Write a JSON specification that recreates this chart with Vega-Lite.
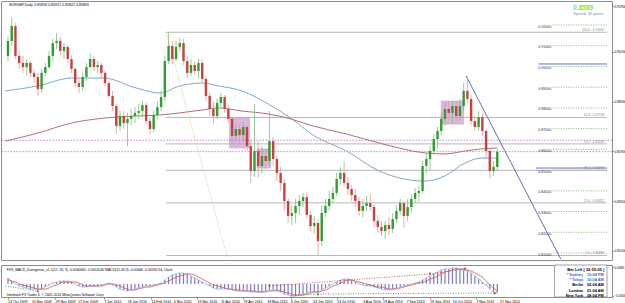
{
"$schema":"https://vega.github.io/schema/vega-lite/v6.json",
"padding":0,
"background":"white",
"spacing":3,
"config":{"view":{"stroke":"#8c8c8c"},"axis":{"title":null,"grid":false,"domain":false,"labelFont":"Liberation Sans","labelColor":"#000000","tickColor":"#8c8c8c","tickSize":1.5,"labelPadding":0.5},"text":{"font":"Liberation Sans"}},
"datasets":{
"c":[
{"t":"2009-10-22","o":0.9051,"h":0.9147,"l":0.9026,"c":0.9123,"m":0.003,"s":0.002},
{"t":"2009-10-25","o":0.9123,"h":0.9234,"l":0.9099,"c":0.9195,"m":0.0015,"s":0.0015},
{"t":"2009-10-28","o":0.9195,"h":0.9210,"l":0.9036,"c":0.9051,"m":0,"s":0.001},
{"t":"2009-10-31","o":0.9051,"h":0.9075,"l":0.8988,"c":0.9017,"m":-0.001,"s":0},
{"t":"2009-11-03","o":0.9017,"h":0.9051,"l":0.8969,"c":0.8997,"m":-0.0015,"s":-0.0005},
{"t":"2009-11-06","o":0.8997,"h":0.9036,"l":0.8959,"c":0.9017,"m":-0.002,"s":-0.001},
{"t":"2009-11-09","o":0.9017,"h":0.9026,"l":0.8949,"c":0.8969,"m":-0.0025,"s":-0.0015},
{"t":"2009-11-12","o":0.8969,"h":0.8988,"l":0.8920,"c":0.8949,"m":-0.0025,"s":-0.002},
{"t":"2009-11-15","o":0.8949,"h":0.8969,"l":0.8858,"c":0.8891,"m":-0.003,"s":-0.0025},
{"t":"2009-11-18","o":0.8891,"h":0.8988,"l":0.8872,"c":0.8969,"m":-0.0025,"s":-0.0025},
{"t":"2009-11-21","o":0.8969,"h":0.9017,"l":0.8954,"c":0.8997,"m":-0.0015,"s":-0.0025},
{"t":"2009-11-24","o":0.8997,"h":0.9075,"l":0.8988,"c":0.9051,"m":-0.0005,"s":-0.002},
{"t":"2009-11-27","o":0.9051,"h":0.9133,"l":0.9026,"c":0.9113,"m":0.0005,"s":-0.001},
{"t":"2009-11-30","o":0.9113,"h":0.9161,"l":0.9084,"c":0.9123,"m":0.001,"s":-0.0005},
{"t":"2009-12-03","o":0.9123,"h":0.9142,"l":0.9055,"c":0.9075,"m":0.0015,"s":0.0005},
{"t":"2009-12-06","o":0.9075,"h":0.9113,"l":0.9036,"c":0.9094,"m":0.0015,"s":0.001},
{"t":"2009-12-09","o":0.9094,"h":0.9104,"l":0.9017,"c":0.9036,"m":0.0015,"s":0.001},
{"t":"2009-12-12","o":0.9036,"h":0.9055,"l":0.8969,"c":0.8988,"m":0.001,"s":0.001},
{"t":"2009-12-15","o":0.8988,"h":0.8997,"l":0.8901,"c":0.8920,"m":0,"s":0.001},
{"t":"2009-12-18","o":0.8920,"h":0.8940,"l":0.8872,"c":0.8901,"m":-0.001,"s":0.0005},
{"t":"2009-12-21","o":0.8901,"h":0.8969,"l":0.8882,"c":0.8949,"m":-0.0015,"s":-0.0005},
{"t":"2009-12-24","o":0.8949,"h":0.9017,"l":0.8930,"c":0.8997,"m":-0.0015,"s":-0.001},
{"t":"2009-12-27","o":0.8997,"h":0.9065,"l":0.8988,"c":0.9036,"m":-0.001,"s":-0.001},
{"t":"2009-12-30","o":0.9036,"h":0.9051,"l":0.8978,"c":0.8997,"m":-0.001,"s":-0.001},
{"t":"2010-01-02","o":0.8997,"h":0.9026,"l":0.8969,"c":0.9007,"m":-0.001,"s":-0.001},
{"t":"2010-01-05","o":0.9007,"h":0.9017,"l":0.8944,"c":0.8969,"m":-0.0005,"s":-0.001},
{"t":"2010-01-08","o":0.8969,"h":0.8978,"l":0.8906,"c":0.8920,"m":0,"s":-0.0005},
{"t":"2010-01-11","o":0.8920,"h":0.8930,"l":0.8843,"c":0.8858,"m":0.0005,"s":0},
{"t":"2010-01-14","o":0.8858,"h":0.8882,"l":0.8785,"c":0.8809,"m":-0.0005,"s":0},
{"t":"2010-01-17","o":0.8809,"h":0.8819,"l":0.8674,"c":0.8713,"m":-0.0015,"s":-0.0005},
{"t":"2010-01-20","o":0.8713,"h":0.8785,"l":0.8689,"c":0.8761,"m":-0.0025,"s":-0.001},
{"t":"2010-01-23","o":0.8761,"h":0.8785,"l":0.8698,"c":0.8727,"m":-0.003,"s":-0.002},
{"t":"2010-01-26","o":0.8727,"h":0.8776,"l":0.8616,"c":0.8747,"m":-0.0035,"s":-0.0025},
{"t":"2010-01-29","o":0.8747,"h":0.8795,"l":0.8718,"c":0.8761,"m":-0.003,"s":-0.003},
{"t":"2010-02-01","o":0.8761,"h":0.8804,"l":0.8727,"c":0.8776,"m":-0.0025,"s":-0.003},
{"t":"2010-02-04","o":0.8776,"h":0.8819,"l":0.8747,"c":0.8785,"m":-0.002,"s":-0.0025},
{"t":"2010-02-07","o":0.8785,"h":0.8833,"l":0.8756,"c":0.8814,"m":-0.0015,"s":-0.002},
{"t":"2010-02-10","o":0.8814,"h":0.8824,"l":0.8718,"c":0.8737,"m":-0.001,"s":-0.0015},
{"t":"2010-02-13","o":0.8737,"h":0.8756,"l":0.8674,"c":0.8698,"m":-0.001,"s":-0.0015},
{"t":"2010-02-16","o":0.8698,"h":0.8785,"l":0.8684,"c":0.8766,"m":-0.0005,"s":-0.001},
{"t":"2010-02-19","o":0.8766,"h":0.8833,"l":0.8747,"c":0.8804,"m":0,"s":-0.0005},
{"t":"2010-02-22","o":0.8804,"h":0.8882,"l":0.8785,"c":0.8853,"m":0.0005,"s":0},
{"t":"2010-02-25","o":0.8853,"h":0.9051,"l":0.8833,"c":0.9026,"m":0.002,"s":0.0005},
{"t":"2010-02-28","o":0.9026,"h":0.9165,"l":0.9012,"c":0.9099,"m":0.0035,"s":0.0015},
{"t":"2010-03-03","o":0.9099,"h":0.9123,"l":0.9012,"c":0.9036,"m":0.0045,"s":0.0025},
{"t":"2010-03-06","o":0.9036,"h":0.9123,"l":0.9026,"c":0.9094,"m":0.005,"s":0.0035},
{"t":"2010-03-09","o":0.9094,"h":0.9137,"l":0.9075,"c":0.9113,"m":0.0055,"s":0.004},
{"t":"2010-03-12","o":0.9113,"h":0.9133,"l":0.9007,"c":0.9026,"m":0.0055,"s":0.0045},
{"t":"2010-03-15","o":0.9026,"h":0.9046,"l":0.8944,"c":0.8969,"m":0.005,"s":0.005},
{"t":"2010-03-18","o":0.8969,"h":0.9036,"l":0.8954,"c":0.9007,"m":0.004,"s":0.005},
{"t":"2010-03-21","o":0.9007,"h":0.9026,"l":0.8959,"c":0.8978,"m":0.003,"s":0.0045},
{"t":"2010-03-24","o":0.8978,"h":0.9036,"l":0.8944,"c":0.9017,"m":0.002,"s":0.0035},
{"t":"2010-03-27","o":0.9017,"h":0.9036,"l":0.8920,"c":0.8940,"m":0.001,"s":0.0025},
{"t":"2010-03-30","o":0.8940,"h":0.8954,"l":0.8833,"c":0.8858,"m":0,"s":0.0015},
{"t":"2010-04-02","o":0.8858,"h":0.8872,"l":0.8761,"c":0.8795,"m":-0.001,"s":0.0005},
{"t":"2010-04-05","o":0.8795,"h":0.8833,"l":0.8722,"c":0.8761,"m":-0.002,"s":-0.0005},
{"t":"2010-04-08","o":0.8761,"h":0.8843,"l":0.8747,"c":0.8824,"m":-0.0025,"s":-0.001},
{"t":"2010-04-11","o":0.8824,"h":0.8872,"l":0.8804,"c":0.8853,"m":-0.0025,"s":-0.0015},
{"t":"2010-04-14","o":0.8853,"h":0.8862,"l":0.8776,"c":0.8795,"m":-0.0025,"s":-0.002},
{"t":"2010-04-17","o":0.8795,"h":0.8814,"l":0.8727,"c":0.8747,"m":-0.0025,"s":-0.0025},
{"t":"2010-04-20","o":0.8747,"h":0.8756,"l":0.8631,"c":0.8665,"m":-0.003,"s":-0.0025},
{"t":"2010-04-23","o":0.8665,"h":0.8727,"l":0.8640,"c":0.8698,"m":-0.0035,"s":-0.003},
{"t":"2010-04-26","o":0.8698,"h":0.8722,"l":0.8631,"c":0.8669,"m":-0.0035,"s":-0.003},
{"t":"2010-04-29","o":0.8669,"h":0.8732,"l":0.8640,"c":0.8708,"m":-0.0035,"s":-0.0035},
{"t":"2010-05-02","o":0.8708,"h":0.8718,"l":0.8592,"c":0.8616,"m":-0.0035,"s":-0.0035},
{"t":"2010-05-05","o":0.8616,"h":0.8640,"l":0.8438,"c":0.8496,"m":-0.004,"s":-0.0035},
{"t":"2010-05-08","o":0.8496,"h":0.8819,"l":0.8467,"c":0.8592,"m":-0.004,"s":-0.0035},
{"t":"2010-05-11","o":0.8592,"h":0.8640,"l":0.8462,"c":0.8520,"m":-0.004,"s":-0.004},
{"t":"2010-05-14","o":0.8520,"h":0.8616,"l":0.8486,"c":0.8568,"m":-0.004,"s":-0.004},
{"t":"2010-05-17","o":0.8568,"h":0.8602,"l":0.8505,"c":0.8544,"m":-0.0035,"s":-0.004},
{"t":"2010-05-20","o":0.8544,"h":0.8785,"l":0.8520,"c":0.8640,"m":-0.003,"s":-0.0035},
{"t":"2010-05-23","o":0.8640,"h":0.8660,"l":0.8520,"c":0.8554,"m":-0.003,"s":-0.0035},
{"t":"2010-05-26","o":0.8554,"h":0.8568,"l":0.8447,"c":0.8486,"m":-0.0035,"s":-0.003},
{"t":"2010-05-29","o":0.8486,"h":0.8515,"l":0.8399,"c":0.8438,"m":-0.004,"s":-0.0035},
{"t":"2010-06-01","o":0.8438,"h":0.8457,"l":0.8303,"c":0.8351,"m":-0.005,"s":-0.004},
{"t":"2010-06-04","o":0.8351,"h":0.8365,"l":0.8245,"c":0.8279,"m":-0.0055,"s":-0.0045},
{"t":"2010-06-07","o":0.8279,"h":0.8327,"l":0.8235,"c":0.8293,"m":-0.006,"s":-0.005},
{"t":"2010-06-10","o":0.8293,"h":0.8361,"l":0.8245,"c":0.8327,"m":-0.006,"s":-0.0055},
{"t":"2010-06-13","o":0.8327,"h":0.8380,"l":0.8284,"c":0.8351,"m":-0.0055,"s":-0.0055},
{"t":"2010-06-16","o":0.8351,"h":0.8390,"l":0.8322,"c":0.8370,"m":-0.005,"s":-0.0055},
{"t":"2010-06-19","o":0.8370,"h":0.8385,"l":0.8264,"c":0.8284,"m":-0.0045,"s":-0.005},
{"t":"2010-06-22","o":0.8284,"h":0.8303,"l":0.8206,"c":0.8230,"m":-0.004,"s":-0.0045},
{"t":"2010-06-25","o":0.8230,"h":0.8279,"l":0.8192,"c":0.8245,"m":-0.004,"s":-0.004},
{"t":"2010-06-28","o":0.8245,"h":0.8264,"l":0.8089,"c":0.8158,"m":-0.004,"s":-0.004},
{"t":"2010-07-01","o":0.8158,"h":0.8327,"l":0.8134,"c":0.8293,"m":-0.003,"s":-0.0035},
{"t":"2010-07-04","o":0.8293,"h":0.8361,"l":0.8274,"c":0.8327,"m":-0.002,"s":-0.003},
{"t":"2010-07-07","o":0.8327,"h":0.8399,"l":0.8303,"c":0.8361,"m":-0.001,"s":-0.002},
{"t":"2010-07-10","o":0.8361,"h":0.8419,"l":0.8341,"c":0.8390,"m":0,"s":-0.001},
{"t":"2010-07-13","o":0.8390,"h":0.8486,"l":0.8375,"c":0.8457,"m":0.001,"s":-0.0005},
{"t":"2010-07-16","o":0.8457,"h":0.8515,"l":0.8428,"c":0.8486,"m":0.002,"s":0.0005},
{"t":"2010-07-19","o":0.8486,"h":0.8544,"l":0.8419,"c":0.8438,"m":0.0025,"s":0.001},
{"t":"2010-07-22","o":0.8438,"h":0.8467,"l":0.8380,"c":0.8409,"m":0.0025,"s":0.002},
{"t":"2010-07-25","o":0.8409,"h":0.8428,"l":0.8351,"c":0.8380,"m":0.002,"s":0.002},
{"t":"2010-07-28","o":0.8380,"h":0.8409,"l":0.8322,"c":0.8351,"m":0.001,"s":0.0015},
{"t":"2010-07-31","o":0.8351,"h":0.8370,"l":0.8279,"c":0.8303,"m":0,"s":0.001},
{"t":"2010-08-03","o":0.8303,"h":0.8361,"l":0.8274,"c":0.8327,"m":-0.0005,"s":0.0005},
{"t":"2010-08-06","o":0.8327,"h":0.8375,"l":0.8303,"c":0.8341,"m":-0.001,"s":0},
{"t":"2010-08-09","o":0.8341,"h":0.8385,"l":0.8303,"c":0.8322,"m":-0.001,"s":-0.0005},
{"t":"2010-08-12","o":0.8322,"h":0.8337,"l":0.8226,"c":0.8255,"m":-0.0015,"s":-0.001},
{"t":"2010-08-15","o":0.8255,"h":0.8284,"l":0.8197,"c":0.8226,"m":-0.002,"s":-0.0015},
{"t":"2010-08-18","o":0.8226,"h":0.8255,"l":0.8182,"c":0.8206,"m":-0.0025,"s":-0.0015},
{"t":"2010-08-21","o":0.8206,"h":0.8255,"l":0.8168,"c":0.8235,"m":-0.003,"s":-0.002},
{"t":"2010-08-24","o":0.8235,"h":0.8274,"l":0.8187,"c":0.8216,"m":-0.003,"s":-0.0025},
{"t":"2010-08-27","o":0.8216,"h":0.8293,"l":0.8197,"c":0.8264,"m":-0.0025,"s":-0.0025},
{"t":"2010-08-30","o":0.8264,"h":0.8332,"l":0.8245,"c":0.8303,"m":-0.002,"s":-0.0025},
{"t":"2010-09-02","o":0.8303,"h":0.8361,"l":0.8284,"c":0.8341,"m":-0.0015,"s":-0.002},
{"t":"2010-09-05","o":0.8341,"h":0.8351,"l":0.8221,"c":0.8279,"m":-0.001,"s":-0.0015},
{"t":"2010-09-08","o":0.8279,"h":0.8361,"l":0.8255,"c":0.8322,"m":-0.0005,"s":-0.001},
{"t":"2010-09-11","o":0.8322,"h":0.8385,"l":0.8293,"c":0.8361,"m":0,"s":-0.0005},
{"t":"2010-09-14","o":0.8361,"h":0.8414,"l":0.8341,"c":0.8390,"m":0.0005,"s":0},
{"t":"2010-09-17","o":0.8390,"h":0.8423,"l":0.8351,"c":0.8399,"m":0.001,"s":0.0005},
{"t":"2010-09-20","o":0.8399,"h":0.8544,"l":0.8390,"c":0.8520,"m":0.002,"s":0.001},
{"t":"2010-09-23","o":0.8520,"h":0.8583,"l":0.8486,"c":0.8554,"m":0.003,"s":0.0015},
{"t":"2010-09-26","o":0.8554,"h":0.8616,"l":0.8496,"c":0.8592,"m":0.004,"s":0.0025},
{"t":"2010-09-29","o":0.8592,"h":0.8674,"l":0.8583,"c":0.8650,"m":0.005,"s":0.003},
{"t":"2010-10-02","o":0.8650,"h":0.8708,"l":0.8607,"c":0.8689,"m":0.006,"s":0.004},
{"t":"2010-10-05","o":0.8689,"h":0.8776,"l":0.8669,"c":0.8747,"m":0.007,"s":0.005},
{"t":"2010-10-08","o":0.8747,"h":0.8824,"l":0.8713,"c":0.8795,"m":0.0075,"s":0.006},
{"t":"2010-10-11","o":0.8795,"h":0.8833,"l":0.8737,"c":0.8776,"m":0.0075,"s":0.0065},
{"t":"2010-10-14","o":0.8776,"h":0.8833,"l":0.8722,"c":0.8809,"m":0.008,"s":0.007},
{"t":"2010-10-17","o":0.8809,"h":0.8833,"l":0.8727,"c":0.8761,"m":0.008,"s":0.0075},
{"t":"2010-10-20","o":0.8761,"h":0.8843,"l":0.8737,"c":0.8809,"m":0.0075,"s":0.0075},
{"t":"2010-10-23","o":0.8809,"h":0.8920,"l":0.8785,"c":0.8882,"m":0.007,"s":0.0075},
{"t":"2010-10-26","o":0.8882,"h":0.8954,"l":0.8824,"c":0.8843,"m":0.0065,"s":0.007},
{"t":"2010-10-29","o":0.8843,"h":0.8862,"l":0.8718,"c":0.8737,"m":0.0055,"s":0.0065},
{"t":"2010-11-01","o":0.8737,"h":0.8761,"l":0.8689,"c":0.8708,"m":0.004,"s":0.0055},
{"t":"2010-11-04","o":0.8708,"h":0.8785,"l":0.8689,"c":0.8756,"m":0.0025,"s":0.0045},
{"t":"2010-11-07","o":0.8756,"h":0.8776,"l":0.8665,"c":0.8689,"m":0.001,"s":0.0035},
{"t":"2010-11-10","o":0.8689,"h":0.8698,"l":0.8554,"c":0.8592,"m":-0.0005,"s":0.0015},
{"t":"2010-11-13","o":0.8592,"h":0.8602,"l":0.8462,"c":0.8496,"m":-0.0025,"s":-0.0005},
{"t":"2010-11-16","o":0.8496,"h":0.8544,"l":0.8472,"c":0.8515,"m":-0.004,"s":-0.002},
{"t":"2010-11-19","o":0.8515,"h":0.8602,"l":0.8496,"c":0.8589,"m":-0.0045,"s":-0.0035}
],
"ma":[
{"t":"2009-10-20","b":0.8882,"r":0.8640},
{"t":"2009-11-15","b":0.8906,"r":0.8679},
{"t":"2009-12-12","b":0.8944,"r":0.8727},
{"t":"2010-01-07","b":0.8944,"r":0.8751},
{"t":"2010-02-02","b":0.8896,"r":0.8761},
{"t":"2010-02-21","b":0.8872,"r":0.8766},
{"t":"2010-03-09","b":0.8906,"r":0.8776},
{"t":"2010-03-27","b":0.8920,"r":0.8790},
{"t":"2010-04-09","b":0.8906,"r":0.8800},
{"t":"2010-04-28","b":0.8882,"r":0.8785},
{"t":"2010-05-19","b":0.8819,"r":0.8771},
{"t":"2010-06-06","b":0.8751,"r":0.8747},
{"t":"2010-06-24","b":0.8669,"r":0.8713},
{"t":"2010-07-21","b":0.8592,"r":0.8674},
{"t":"2010-08-16","b":0.8496,"r":0.8631},
{"t":"2010-09-22","b":0.8447,"r":0.8583},
{"t":"2010-10-08","b":0.8472,"r":0.8578},
{"t":"2010-10-24","b":0.8534,"r":0.8592},
{"t":"2010-11-06","b":0.8558,"r":0.8602},
{"t":"2010-11-19","b":0.8558,"r":0.8607}
],
"box":[
{"t1":"2010-04-18","t2":"2010-05-04","p1":0.8751,"p2":0.8607},
{"t1":"2010-05-10","t2":"2010-05-21","p1":0.8602,"p2":0.8510},
{"t1":"2010-10-05","t2":"2010-10-23","p1":0.8833,"p2":0.8722}
],
"fib":[
{"p":0.9165,"lab":"100.0 - 0.91650"},
{"p":0.8754,"lab":"61.8 - 0.87538"},
{"p":0.86265,"lab":"50.0 - 0.86265"},
{"p":0.8499,"lab":"38.2 - 0.84992"},
{"p":0.83422,"lab":"23.6 - 0.83422"},
{"p":0.8088,"lab":"0.0 - 0.80880"}
],
"lv":[{"p":0.92},{"p":0.91},{"p":0.90},{"p":0.89},{"p":0.88},{"p":0.87},{"p":0.86},{"p":0.85},{"p":0.84},{"p":0.83},{"p":0.82},{"p":0.81}],
"tl":[
{"id":"a","t":"2010-02-26","p":0.9165},{"id":"a","t":"2010-04-16","p":0.8081},
{"id":"b","t":"2010-10-25","p":0.8954},{"id":"b","t":"2011-01-09","p":0.8071}
],
"div":[
{"id":"g1","k":"bull","t":"2009-10-20","v":-0.001},{"id":"g1","k":"bull","t":"2009-11-15","v":-0.0035},
{"id":"g2","k":"bull","t":"2010-06-06","v":-0.006},{"id":"g2","k":"bull","t":"2010-06-28","v":-0.005},
{"id":"g3","k":"bull","t":"2010-06-28","v":-0.005},{"id":"g3","k":"bull","t":"2010-11-17","v":-0.0045},
{"id":"r1","k":"bear","t":"2010-05-20","v":-0.001},{"id":"r1","k":"bear","t":"2010-09-26","v":0.005},
{"id":"r2","k":"bear","t":"2010-09-26","v":0.005},{"id":"r2","k":"bear","t":"2010-10-24","v":0.0075}
],
"arr":[
{"k":"bear","t":"2010-05-20","v":-0.001},{"k":"bear","t":"2010-09-26","v":0.005},{"k":"bear","t":"2010-10-24","v":0.0075},
{"k":"bull","t":"2009-11-15","v":-0.0035},{"k":"bull","t":"2010-06-28","v":-0.005},{"k":"bull","t":"2010-11-17","v":-0.0045}
],
"info":[
{"name":"* Sydney","time":"12:04 PM","v":0.0046},
{"name":"* Tokyo","time":"10:04 AM","v":0.00195},
{"name":"Berlin","time":"02:04 AM","v":-0.0007},
{"name":"London","time":"01:04 AM","v":-0.00335},
{"name":"New York","time":"08:04 PM","v":-0.006}
],
"dl":[
{"t":"2009-10-22","lab":"22 Oct 2009"},{"t":"2009-11-10","lab":"10 Nov 2009"},{"t":"2009-11-29","lab":"29 Nov 2009"},{"t":"2009-12-17","lab":"17 Dec 2009"},
{"t":"2010-01-07","lab":"7 Jan 2010"},{"t":"2010-01-26","lab":"26 Jan 2010"},{"t":"2010-02-14","lab":"14 Feb 2010"},{"t":"2010-03-04","lab":"4 Mar 2010"},
{"t":"2010-03-23","lab":"23 Mar 2010"},{"t":"2010-04-11","lab":"11 Apr 2010"},{"t":"2010-04-29","lab":"29 Apr 2010"},{"t":"2010-05-18","lab":"18 May 2010"},
{"t":"2010-06-06","lab":"6 Jun 2010"},{"t":"2010-06-24","lab":"24 Jun 2010"},{"t":"2010-07-13","lab":"13 Jul 2010"},{"t":"2010-08-03","lab":"3 Aug 2010"},
{"t":"2010-08-19","lab":"19 Aug 2010"},{"t":"2010-09-07","lab":"7 Sep 2010"},{"t":"2010-09-26","lab":"26 Sep 2010"},{"t":"2010-10-14","lab":"14 Oct 2010"},
{"t":"2010-11-02","lab":"2 Nov 2010"},{"t":"2010-11-21","lab":"21 Nov 2010"}
]
},
"vconcat":[
{
"width":611,"height":259,
"layer":[
{"data":{"name":"box"},"mark":{"type":"rect","fill":"#DCB8E0","stroke":"#C8A2D2","strokeWidth":0.6},
 "encoding":{"x":{"field":"t1","type":"temporal","scale":{"type":"utc","domain":[{"year":2009,"month":10,"date":20,"hours":10,"utc":true},{"year":2011,"month":2,"date":15,"hours":3,"utc":true}]},"axis":null},"x2":{"field":"t2"},
 "y":{"field":"p1","type":"quantitative","scale":{"domain":[0.80664,0.93158],"nice":false,"zero":false},"axis":{"orient":"right","values":[0.811,0.817,0.823,0.829,0.835,0.841,0.847,0.853,0.859,0.865,0.871,0.877,0.883,0.889,0.895,0.901,0.907,0.913,0.919,0.925,0.929],"format":".5f","labelFontSize":3.3,"labelOverlap":false}},"y2":{"field":"p2"}}},
{"data":{"values":[{"p":0.8644},{"p":0.8589}]},"mark":{"type":"rule","stroke":"#B06CC6","strokeDash":[1.5,1.5],"strokeWidth":0.8},"encoding":{"y":{"field":"p","type":"quantitative"}}},
{"data":{"name":"fib"},"mark":{"type":"rule","stroke":"#A6A6A6","strokeWidth":0.8},"encoding":{"x":{"datum":{"year":2010,"month":2,"date":26,"utc":true},"type":"temporal"},"x2":{"datum":{"year":2011,"month":2,"date":15,"hours":3,"utc":true}},"y":{"field":"p","type":"quantitative"}}},
{"data":{"name":"fib"},"mark":{"type":"text","align":"right","baseline":"bottom","dy":-0.3,"fontSize":3.2,"fill":"#8C8C8C"},"encoding":{"x":{"datum":{"year":2011,"month":2,"date":13,"utc":true},"type":"temporal"},"y":{"field":"p","type":"quantitative"},"text":{"field":"lab"}}},
{"data":{"name":"lv"},"mark":{"type":"rule","stroke":"#5DA84A","strokeDash":[1,1.5],"strokeWidth":0.8},"encoding":{"x":{"datum":{"year":2011,"month":1,"date":3,"utc":true},"type":"temporal"},"x2":{"datum":{"year":2011,"month":2,"date":15,"hours":3,"utc":true}},"y":{"field":"p","type":"quantitative"}}},
{"data":{"name":"lv"},"mark":{"type":"text","align":"left","baseline":"middle","dy":1.5,"fontSize":3.6,"fill":"#333333"},"encoding":{"x":{"datum":{"year":2010,"month":12,"date":22,"utc":true},"type":"temporal"},"y":{"field":"p","type":"quantitative"},"text":{"field":"p","format":".5f"}}},
{"data":{"values":[{"p":0.9012,"t1":"2010-12-22"},{"p":0.8510,"t1":"2010-12-20"}]},"mark":{"type":"rule","stroke":"#6C6CC4","strokeWidth":1},"encoding":{"x":{"field":"t1","type":"temporal"},"x2":{"datum":{"year":2011,"month":2,"date":15,"hours":3,"utc":true}},"y":{"field":"p","type":"quantitative"}}},
{"data":{"name":"ma"},"mark":{"type":"line","stroke":"#7FA9CA","strokeWidth":1,"interpolate":"monotone","clip":true},"encoding":{"x":{"field":"t","type":"temporal"},"y":{"field":"b","type":"quantitative"}}},
{"data":{"name":"ma"},"mark":{"type":"line","stroke":"#B86A7A","strokeWidth":1,"interpolate":"monotone","clip":true},"encoding":{"x":{"field":"t","type":"temporal"},"y":{"field":"r","type":"quantitative"}}},
{"data":{"name":"tl"},"transform":[{"filter":"datum.id=='a'"}],"mark":{"type":"line","stroke":"#E2C48A","strokeDash":[1,1.5],"strokeWidth":1,"clip":true},"encoding":{"x":{"field":"t","type":"temporal"},"y":{"field":"p","type":"quantitative"}}},
{"data":{"name":"tl"},"transform":[{"filter":"datum.id=='b'"}],"mark":{"type":"line","stroke":"#6A6AB8","strokeWidth":1,"clip":true},"encoding":{"x":{"field":"t","type":"temporal"},"y":{"field":"p","type":"quantitative"}}},
{"data":{"name":"c"},"mark":{"type":"rule","strokeWidth":0.8},"encoding":{"x":{"field":"t","type":"temporal"},"y":{"field":"l","type":"quantitative"},"y2":{"field":"h"},"color":{"condition":{"test":"datum.c >= datum.o","value":"#7DBE7D"},"value":"#E29A9A"}}},
{"data":{"name":"c"},"mark":{"type":"bar","size":2.4},"encoding":{"x":{"field":"t","type":"temporal"},"y":{"field":"o","type":"quantitative"},"y2":{"field":"c"},"color":{"condition":{"test":"datum.c >= datum.o","value":"#2F9E2F"},"value":"#C9403F"}}},
{"data":{"values":[{"txt":"EURGBP,Daily  0.85858 0.85921 0.85822 0.85893"}]},"mark":{"type":"text","align":"left","baseline":"top","fontSize":3.6,"fill":"#000000"},"encoding":{"x":{"datum":{"year":2009,"month":10,"date":23,"utc":true},"type":"temporal"},"y":{"datum":0.9305,"type":"quantitative"},"text":{"field":"txt"}}},
{"data":{"values":[{"txt":"0.8589"}]},"mark":{"type":"text","align":"right","baseline":"middle","fontSize":6.5,"fontWeight":"bold","fill":"#7CE83A"},"encoding":{"x":{"datum":{"year":2011,"month":2,"date":4,"utc":true},"type":"temporal"},"y":{"datum":0.9282,"type":"quantitative"},"text":{"field":"txt"}}},
{"data":{"values":[{"txt":"Spread: 32 points"}]},"mark":{"type":"text","align":"right","baseline":"middle","fontSize":3.8,"fill":"#6A8FB0"},"encoding":{"x":{"datum":{"year":2011,"month":2,"date":12,"utc":true},"type":"temporal"},"y":{"datum":0.92507,"type":"quantitative"},"text":{"field":"txt"}}}
]
},
{
"width":611,"height":32,
"layer":[
{"data":{"name":"c"},"mark":{"type":"bar","size":1.2,"color":"#7B7BC9"},
 "encoding":{"x":{"field":"t","type":"temporal","scale":{"type":"utc","domain":[{"year":2009,"month":10,"date":20,"hours":10,"utc":true},{"year":2011,"month":2,"date":15,"hours":3,"utc":true}]},
 "axis":{"orient":"bottom","values":[{"year":2009,"month":10,"date":22,"utc":true},{"year":2009,"month":11,"date":10,"utc":true},{"year":2009,"month":11,"date":29,"utc":true},{"year":2009,"month":12,"date":17,"utc":true},{"year":2010,"month":1,"date":7,"utc":true},{"year":2010,"month":1,"date":26,"utc":true},{"year":2010,"month":2,"date":14,"utc":true},{"year":2010,"month":3,"date":4,"utc":true},{"year":2010,"month":3,"date":23,"utc":true},{"year":2010,"month":4,"date":11,"utc":true},{"year":2010,"month":4,"date":29,"utc":true},{"year":2010,"month":5,"date":18,"utc":true},{"year":2010,"month":6,"date":6,"utc":true},{"year":2010,"month":6,"date":24,"utc":true},{"year":2010,"month":7,"date":13,"utc":true},{"year":2010,"month":8,"date":3,"utc":true},{"year":2010,"month":8,"date":19,"utc":true},{"year":2010,"month":9,"date":7,"utc":true},{"year":2010,"month":9,"date":26,"utc":true},{"year":2010,"month":10,"date":14,"utc":true},{"year":2010,"month":11,"date":2,"utc":true},{"year":2010,"month":11,"date":21,"utc":true}],
 "labels":false,"tickSize":2}},
 "y":{"field":"m","type":"quantitative","scale":{"domain":[-0.0065,0.0095],"nice":false,"zero":false},"axis":{"orient":"right","values":[0.0085,0,-0.0058],"labelExpr":"datum.value==0?'0.00':format(datum.value,'.4f')","labelFontSize":3.2,"labelOverlap":false}},
 "y2":{"datum":0}}},
{"data":{"name":"c"},"mark":{"type":"line","stroke":"#8DB8E8","strokeWidth":0.8,"interpolate":"monotone"},"encoding":{"x":{"field":"t","type":"temporal"},"y":{"field":"m","type":"quantitative"}}},
{"data":{"name":"c"},"mark":{"type":"line","stroke":"#D85050","strokeWidth":0.8,"interpolate":"monotone"},"encoding":{"x":{"field":"t","type":"temporal"},"y":{"field":"s","type":"quantitative"}}},
{"data":{"name":"div"},"mark":{"type":"line","strokeDash":[1,1.5],"strokeWidth":0.8,"clip":true},"encoding":{"x":{"field":"t","type":"temporal"},"y":{"field":"v","type":"quantitative"},"detail":{"field":"id"},"color":{"field":"k","type":"nominal","scale":{"domain":["bear","bull"],"range":["#D03030","#2E8B2E"]},"legend":null}}},
{"data":{"name":"arr"},"mark":{"type":"point","filled":true,"size":7,"opacity":1},"encoding":{"x":{"field":"t","type":"temporal"},"y":{"field":"v","type":"quantitative"},"shape":{"field":"k","type":"nominal","scale":{"domain":["bear","bull"],"range":["triangle-down","triangle-up"]},"legend":null},"color":{"field":"k","type":"nominal","legend":null}}},
{"data":{"values":[{"txt":"Bar Left [ 22:55:05 ]"}]},"mark":{"type":"rect","fill":"white","stroke":"#8c8c8c","strokeWidth":0.8},"encoding":{"x":{"datum":{"year":2011,"month":1,"date":4,"utc":true},"type":"temporal"},"x2":{"datum":{"year":2011,"month":2,"date":15,"hours":3,"utc":true}},"y":{"datum":0.0095,"type":"quantitative"},"y2":{"datum":-0.0065}}},
{"data":{"values":[{"txt":"Bar Left [ 22:55:05 ]"}]},"mark":{"type":"text","align":"right","baseline":"middle","fontSize":4,"fontWeight":"bold","fill":"#000000"},"encoding":{"x":{"datum":{"year":2011,"month":2,"date":13,"utc":true},"type":"temporal"},"y":{"datum":0.00725,"type":"quantitative"},"text":{"field":"txt"}}},
{"data":{"name":"info"},"mark":{"type":"text","align":"right","baseline":"middle","fontSize":3.9,"fontWeight":"bold"},"encoding":{"x":{"datum":{"year":2011,"month":1,"date":27,"utc":true},"type":"temporal"},"y":{"field":"v","type":"quantitative"},"text":{"field":"name"},"color":{"condition":{"test":"indexof(datum.name,'*')==0","value":"#3A5FCD"},"value":"#000000"}}},
{"data":{"name":"info"},"mark":{"type":"text","align":"left","baseline":"middle","fontSize":3.9,"fontWeight":"bold"},"encoding":{"x":{"datum":{"year":2011,"month":1,"date":30,"utc":true},"type":"temporal"},"y":{"field":"v","type":"quantitative"},"text":{"field":"time"},"color":{"condition":{"test":"indexof(datum.name,'*')==0","value":"#3A5FCD"},"value":"#000000"}}},
{"data":{"values":[{"txt":"FXS_MACD_Divergence_v1.1(12, 26, 9) -0.0040660 -0.0052040  MACD(12,26,9) -0.00466 -0.00530  94, Clock"}]},"mark":{"type":"text","align":"left","baseline":"middle","fontSize":3.4,"fill":"#000000"},"encoding":{"x":{"datum":{"year":2009,"month":10,"date":21,"utc":true},"type":"temporal"},"y":{"datum":0.0072,"type":"quantitative"},"text":{"field":"txt"}}},
{"data":{"values":[{"txt":"Interbank FX Trader 4, © 2001-2010 MetaQuotes Software Corp."}]},"mark":{"type":"text","align":"left","baseline":"middle","fontSize":3.4,"fill":"#000000"},"encoding":{"x":{"datum":{"year":2009,"month":10,"date":21,"utc":true},"type":"temporal"},"y":{"datum":-0.0053,"type":"quantitative"},"text":{"field":"txt"}}},
{"data":{"name":"dl"},"mark":{"type":"text","align":"left","baseline":"top","dy":2.6,"dx":0.3,"fontSize":3.5,"fill":"#000000"},"encoding":{"x":{"field":"t","type":"temporal"},"y":{"datum":-0.0065,"type":"quantitative"},"text":{"field":"lab"}}}
]
}
]
}
